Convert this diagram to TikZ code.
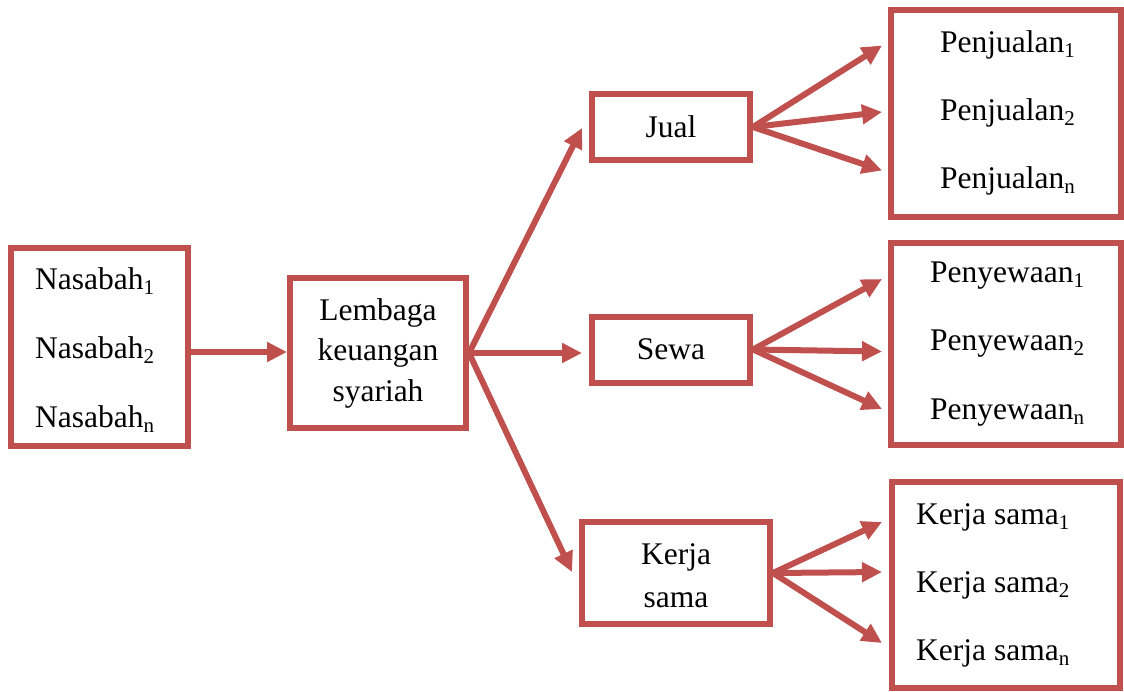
\documentclass[tikz,border=0pt]{standalone}
\usepackage{fontspec}
\setmainfont{Liberation Serif}
\usetikzlibrary{arrows.meta,calc}
\definecolor{boxred}{HTML}{C0504D}
% small lowered index after a word
\newcommand\idx[1]{\raisebox{-0.16em}{\fontsize{21}{21}\selectfont #1}}
\begin{document}
\begin{tikzpicture}[x=1pt,y=-1pt,
  frame/.style={draw=boxred,line width=6pt,inner sep=0pt,minimum width=#1},
  txt/.style={inner sep=0pt,font=\fontsize{31.5}{#1}\selectfont},
  flow/.style={draw=boxred,line width=6pt,-{Triangle[length=20pt,width=19pt]}}]
\useasboundingbox[fill=white] (0,0) rectangle (1124,691);

% boxes
\node[frame=177pt,minimum height=198pt] (nas) at (99.5,347) {};
\node[frame=176pt,minimum height=150pt] (lem) at (378,353) {};
\node[frame=158pt,minimum height=66pt] (jual) at (671,127) {};
\node[frame=158pt,minimum height=66pt] (sewa) at (671,349.5) {};
\node[frame=188pt,minimum height=102pt] (kerja) at (676,573) {};
\node[frame=230pt,minimum height=207pt] (pj) at (1006,113.5) {};
\node[frame=230pt,minimum height=202pt] (ps) at (1006,344) {};
\node[frame=228pt,minimum height=206pt] (ks) at (1006,585) {};

% texts
\node[txt=69pt,align=left,anchor=west] (nasT) at (35,350)
  {Nasabah\idx{1}\\Nasabah\idx{2}\\Nasabah\idx{n}};
\node[txt=40.5pt,align=center] (lemT) at (378,353)
  {Lembaga\\keuangan\\syariah};
\node[txt=40pt] (jualT) at (671,127) {Jual};
\node[txt=40pt] (sewaT) at (671,349) {Sewa};
\node[txt=43pt,align=center] (kerjaT) at (676,576) {Kerja\\sama};
\node[txt=68pt,align=left,anchor=west] (pjT) at (940,113)
  {Penjualan\idx{1}\\Penjualan\idx{2}\\Penjualan\idx{n}};
\node[txt=68.5pt,align=left,anchor=west] (psT) at (930,344)
  {Penyewaan\idx{1}\\Penyewaan\idx{2}\\Penyewaan\idx{n}};
\node[txt=68pt,align=left,anchor=west] (ksT) at (916,585)
  {Kerja sama\idx{1}\\Kerja sama\idx{2}\\Kerja sama\idx{n}};

% connectors
\coordinate (nasOut) at ($(nas.east)+(0,5)$);
\draw[flow] (nasOut) -- (nasOut -| lem.west);
\draw[flow] (lem.east) -- ($(jual.west)+(-7,1)$);
\draw[flow] (lem.east) -- ($(lem.east -| sewa.west)+(-7,0)$);
\draw[flow] (lem.east) -- ($(kerja.west)+(-7,-1)$);

\draw[flow] (jual.east) -- ($(pj.west)+(-6,-68)$);
\draw[flow] (jual.east) -- ($(pj.west)+(-6,-1.5)$);
\draw[flow] (jual.east) -- ($(pj.west)+(-6,57)$);

\draw[flow] (sewa.east) -- ($(ps.west)+(-6,-65)$);
\draw[flow] (sewa.east) -- ($(ps.west)+(-6,7.5)$);
\draw[flow] (sewa.east) -- ($(ps.west)+(-6,65)$);

\draw[flow] (kerja.east) -- ($(ks.west)+(-7,-63)$);
\draw[flow] (kerja.east) -- ($(ks.west)+(-7,-13)$);
\draw[flow] (kerja.east) -- ($(ks.west)+(-7,58)$);
\end{tikzpicture}
\end{document}
